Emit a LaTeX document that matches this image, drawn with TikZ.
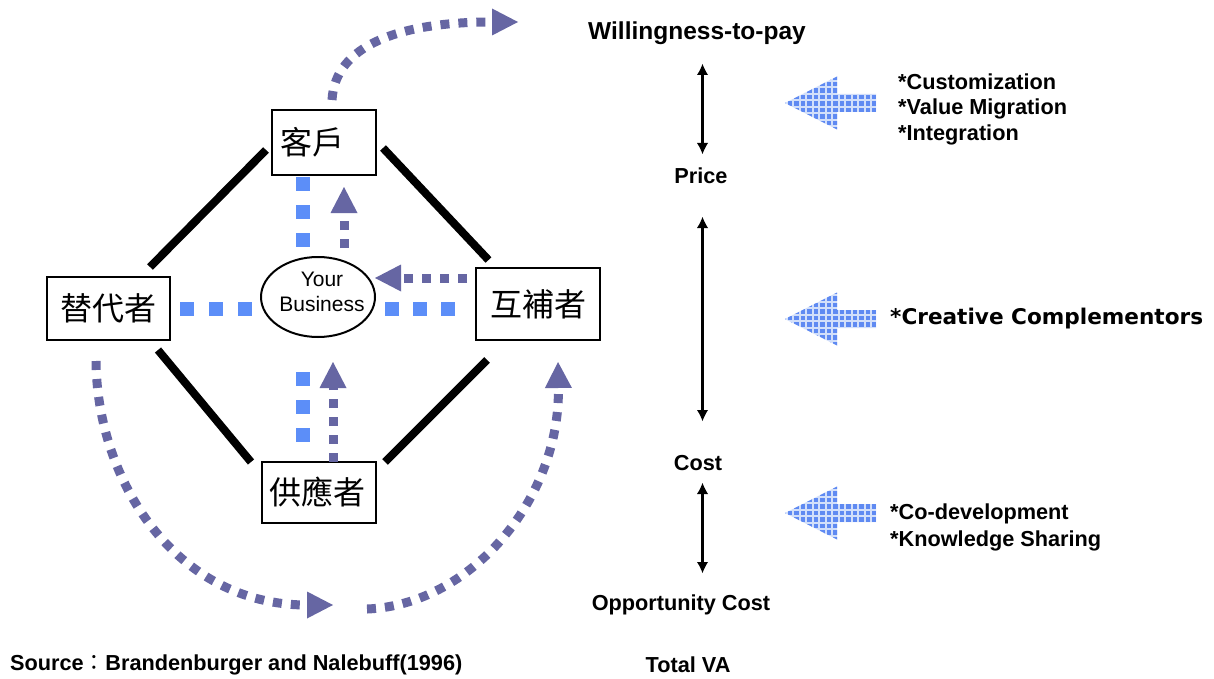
\documentclass[tikz,border=0pt]{standalone}
\usepackage{fontspec}
\setmainfont{Liberation Sans}
\newfontfamily\cjkfont{Noto Sans CJK TC}
\newfontfamily\widefont{DejaVu Sans}
\usetikzlibrary{arrows.meta,patterns,shapes.geometric}

% grid of small squares used inside the block arrows
\pgfdeclarepatternformonly{bluegrid}{\pgfpoint{-1pt}{-1pt}}{\pgfpoint{7.5pt}{7.5pt}}{\pgfpoint{6.5pt}{6.5pt}}{%
  \pgfpathrectangle{\pgfpoint{1pt}{1pt}}{\pgfpoint{4.5pt}{4.5pt}}%
  \pgfusepath{fill}}

\definecolor{tileblue}{RGB}{92,142,248}
\definecolor{flowpurple}{RGB}{102,102,163}
\definecolor{checkblue}{RGB}{95,138,242}
\definecolor{checkpale}{RGB}{210,223,250}

\tikzset{
  player/.style={draw=black, line width=2.5pt, fill=white, inner sep=0pt, outer sep=0pt,
    font=\cjkfont\fontsize{32}{32}\selectfont},
  tie/.style={line width=8pt},
  tiles/.style={tileblue, line width=14pt, dash pattern=on 14pt off 14pt},
  flow/.style={flowpurple, line width=9pt, dash pattern=on 9pt off 9pt,
    -{Triangle[length=26pt,width=27pt,line width=0pt]}},
  span/.style={line width=3pt,
    {Latex[length=11pt,width=11pt,line width=0pt]}-{Latex[length=11pt,width=11pt,line width=0pt]}},
  tag/.style={font=\bfseries\fontsize{21.7}{25}\selectfont, inner sep=0pt},
  note/.style={inner sep=0pt, align=left, anchor=west},
  pushleft/.pic={
    \path[fill=checkpale, postaction={pattern=bluegrid, pattern color=checkblue}]
      (0,0) -- (52,-26.5) -- (52,-9) -- (91,-9) -- (91,9) -- (52,9) -- (52,26.5) -- cycle;
  },
}

\begin{document}
\begin{tikzpicture}[x=1pt,y=-1pt]
\useasboundingbox (0,0) rectangle (1214,679);
\fill[white] (0,0) rectangle (1214,679);

% the four players
\node[player, minimum width=104pt, minimum height=65pt, text width=88pt, inner xsep=8pt, align=left]
  (cust) at (324,142.5) {客戶};
\node[player, minimum width=123pt, minimum height=63pt] (subst) at (108.5,308.5) {替代者};
\node[player, minimum width=124pt, minimum height=72pt] (comp) at (538,304) {互補者};
\node[player, minimum width=114pt, minimum height=61pt, text width=100pt, inner xsep=7pt, align=left]
  (supp) at (319,492.5) {供應者};

% the firm in the middle
\node[ellipse, draw, line width=2pt, outer sep=0pt, minimum width=114pt, minimum height=80pt] (biz) at (318,297) {};
\node[align=center, inner sep=0pt, font=\fontsize{21}{25}\selectfont] (biztext)
  at ([xshift=4pt,yshift=5pt]biz.center) {Your\\Business};

% value net links
\draw[tie] ([xshift=41.5pt,yshift=10pt]subst.north) -- ([xshift=-6pt,yshift=-7.5pt]cust.west);
\draw[tie] ([xshift=7pt,yshift=-5.5pt]cust.east) -- ([xshift=-49.5pt,yshift=8pt]comp.north);
\draw[tie] ([xshift=49.5pt,yshift=-10pt]subst.south) -- ([xshift=-11pt]supp.north west);
\draw[tie] ([xshift=9pt]supp.north east) -- ([xshift=-51pt,yshift=-20pt]comp.south);

% square-dotted ties to the firm
\draw[tiles] ([xshift=-21pt,yshift=-2pt]cust.south) -- ++(0,70);
\draw[tiles, dash pattern=on 14pt off 15pt] ([xshift=10pt]subst.east) -- ([xshift=-8pt,yshift=-11.5pt]biz.west);
\draw[tiles] ([xshift=10pt,yshift=-11.5pt]biz.east) -- ([xshift=-20pt,yshift=-4.5pt]comp.west);
\draw[tiles] ([xshift=-15pt,yshift=-35pt]biz.south) -- ++(0,70);

% value flows
\draw[flow] ([xshift=26pt,yshift=9pt]biz.north) -- ([xshift=20pt,yshift=-12pt]cust.south);
\draw[flow] ([xshift=-9pt,yshift=26pt]comp.west) -- ([xshift=57pt,yshift=19pt]biz.center);
\draw[flow] ([xshift=14pt]supp.north) -- ([xshift=15pt,yshift=-25pt]biz.south);

\coordinate (wtpin) at (518,22);
\coordinate (lowmid) at (333,605);
\draw[flow] ([xshift=8pt,yshift=10pt]cust.north) .. controls (335,45) and (400,22) .. (wtpin);
\draw[flow] ([xshift=-12.5pt,yshift=-21pt]subst.south) .. controls (97,480) and (175,605) .. (lowmid);
\draw[flow] (367,609) .. controls (470,605) and (560,500) .. ([xshift=20pt,yshift=-22pt]comp.south);

% value scale
\node[tag, font=\bfseries\fontsize{24.5}{28}\selectfont] (wtp) at (697,33) {Willingness-to-pay};
\node[tag] (price) at (701,176) {Price};
\node[tag] (cost) at (698,463) {Cost};
\node[tag] (opp) at (681,605) {Opportunity Cost};
\node[tag] (total) at (688,665) {Total VA};
\node[tag, anchor=west] (src) at (10,665) {Source{\cjkfont\mdseries ：}Brandenburger and Nalebuff(1996)};

\draw[span] ([xshift=5.5pt,yshift=-31pt]wtp.center) -- ([xshift=1.5pt,yshift=22pt]price.center);
\draw[span] ([xshift=1.5pt,yshift=-41pt]price.center) -- ([xshift=4.5pt,yshift=42pt]cost.center);
\draw[span] ([xshift=4.5pt,yshift=-20pt]cost.center) -- ([xshift=21.5pt,yshift=32pt]opp.center);

% levers
\pic at (785,103) {pushleft};
\pic at (785,319) {pushleft};
\pic at (785,513) {pushleft};

\node[note, font=\bfseries\fontsize{21.7}{25.5}\selectfont] (levers1) at (898,109)
  {*Customization\\*Value Migration\\*Integration};
\node[note, font=\widefont\bfseries\fontsize{21.6}{26}\selectfont] (levers2) at (890,319)
  {*Creative Complementors};
\node[note, font=\bfseries\fontsize{21.7}{27}\selectfont] (levers3) at (890,527)
  {*Co-development\\*Knowledge Sharing};
\end{tikzpicture}
\end{document}
